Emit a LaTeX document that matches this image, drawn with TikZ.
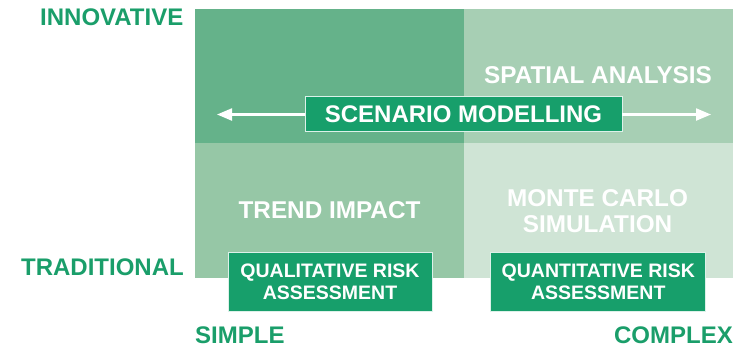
\documentclass[tikz,border=0pt]{standalone}
\usepackage{fontspec}
\setmainfont{Liberation Sans}
\usetikzlibrary{arrows.meta}
\definecolor{qTL}{HTML}{65B28A}
\definecolor{qTR}{HTML}{A7CFB4}
\definecolor{qBL}{HTML}{96C7A6}
\definecolor{qBR}{HTML}{CFE4D5}
\definecolor{boxgreen}{HTML}{179F6B}
\definecolor{labgreen}{HTML}{1A9E6A}
\tikzset{
  axislabel/.style={text=labgreen, font=\fontsize{24}{26}\selectfont\bfseries, inner sep=0pt},
  cellText/.style={text=white, font=\fontsize{24.3}{26}\selectfont\bfseries, inner sep=0pt, align=center},
  greenbox/.style={fill=boxgreen, draw=white!85!boxgreen, line width=0.8pt, text=white, font=\fontsize{19.5}{21.5}\selectfont\bfseries, align=center, inner sep=0pt},
  whitearrow/.style={draw=white, line width=2.2pt, -{Triangle[length=15pt,width=12pt]}}
}
\begin{document}
\begin{tikzpicture}[x=1pt,y=-1pt]
\useasboundingbox (0,0) rectangle (741,349);
% quadrants
\fill[qTL] (195,9) rectangle (464,143);
\fill[qTR] (464,9) rectangle (733,143);
\fill[qBL] (195,143) rectangle (464,277.5);
\fill[qBR] (464,143) rectangle (733,277.5);
% axis labels
\node[axislabel, anchor=east] (innov) at (183.5,17.5) {INNOVATIVE};
\node[axislabel, anchor=east] (trad) at (184,267.5) {TRADITIONAL};
\node[axislabel, anchor=west] (simple) at (195,335) {SIMPLE};
\node[axislabel, anchor=east] (complex) at (733,335) {COMPLEX};
% cell texts
\node[cellText] (spatial) at (598,75.5) {SPATIAL ANALYSIS};
\node[cellText] (trend) at (329.5,210) {TREND IMPACT};
\node[cellText] (monte) at (597.5,211) {MONTE CARLO\\SIMULATION};
% scenario modelling
\node[greenbox, font=\fontsize{24}{26}\selectfont\bfseries, minimum width=317pt, minimum height=35pt] (scen) at (463.5,114) {SCENARIO MODELLING};
\coordinate (lend) at (217,114.5);
\coordinate (rend) at (711,114.5);
\draw[whitearrow] (scen.west |- lend) -- (lend);
\draw[whitearrow] (scen.east |- rend) -- (rend);
% bottom boxes
\node[greenbox, minimum width=204pt, minimum height=58.5pt] (qual) at (330,282) {QUALITATIVE RISK\\ASSESSMENT};
\node[greenbox, minimum width=215pt, minimum height=58.5pt] (quant) at (598.3,282) {QUANTITATIVE RISK\\ASSESSMENT};
\end{tikzpicture}
\end{document}
